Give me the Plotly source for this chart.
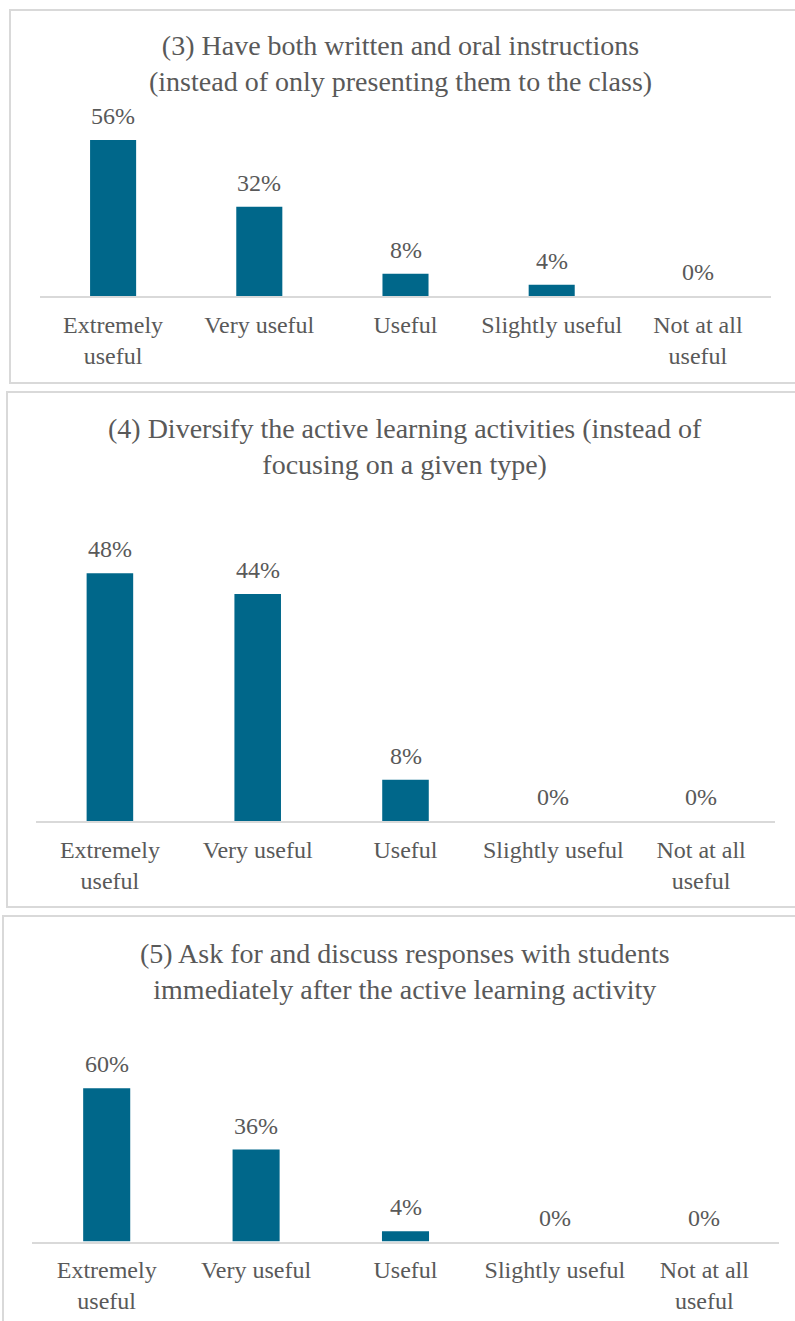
import plotly.graph_objects as go

# Survey response categories and their axis labels
categories = ["Extremely useful", "Very useful", "Useful", "Slightly useful", "Not at all useful"]
tick_labels = ["Extremely<br>useful", "Very useful", "Useful", "Slightly useful", "Not at all<br>useful"]

# Share of respondents (%) per question
q3_values = [56, 32, 8, 4, 0]
q4_values = [48, 44, 8, 0, 0]
q5_values = [60, 36, 4, 0, 0]

q3_title = "(3) Have both written and oral instructions<br>(instead of only presenting them to the class)"
q4_title = "(4) Diversify the active learning activities (instead of<br>focusing on a given type)"
q5_title = "(5) Ask for and discuss responses with students<br>immediately after the active learning activity"

W, H = 795, 1321
FONT = "'Liberation Serif', 'Times New Roman', 'DejaVu Serif', serif"
TEXT = "#595959"
BAR = "#00678A"
GRID = "#D9D9D9"

# Panel geometry in pixels: frame (left, top, bottom), plot x-extent, baseline,
# plot top, px per %, title centre
panels = [
    dict(values=q3_values, title=q3_title, frame=(10, 10, 383), xs=(40, 771),
         base=296, top=105, scale=2.786, title_x=400, title_y=63.5),
    dict(values=q4_values, title=q4_title, frame=(7, 392, 907), xs=(36, 775),
         base=821, top=480, scale=5.16, title_x=405, title_y=446.5),
    dict(values=q5_values, title=q5_title, frame=(3, 916, 1340), xs=(32, 779),
         base=1241.5, top=1010, scale=2.555, title_x=405, title_y=971.5),
]


def px_x(x):
    return x / W


def px_y(y):
    return 1 - y / H


fig = go.Figure()
annotations = []
shapes = []

for i, p in enumerate(panels, start=1):
    xa = "x" if i == 1 else f"x{i}"
    ya = "y" if i == 1 else f"y{i}"
    fig.add_trace(go.Bar(
        x=categories, y=p["values"], xaxis=xa, yaxis=ya,
        width=0.315, marker=dict(color=BAR, line=dict(width=0)),
        hoverinfo="skip", showlegend=False,
    ))
    ymax = (p["base"] - p["top"]) / p["scale"]
    xkey = "xaxis" if i == 1 else f"xaxis{i}"
    ykey = "yaxis" if i == 1 else f"yaxis{i}"
    fig.update_layout({
        xkey: dict(
            domain=[px_x(p["xs"][0]), px_x(p["xs"][1])],
            anchor=ya, type="category",
            tickmode="array", tickvals=categories, ticktext=tick_labels,
            showline=True, linecolor=GRID, linewidth=1.5,
            showgrid=False, zeroline=False, ticks="",
            ticklabelstandoff=6,
            tickfont=dict(family=FONT, size=24, color=TEXT),
            fixedrange=True,
        ),
        ykey: dict(
            domain=[px_y(p["base"]), px_y(p["top"])],
            anchor=xa, range=[0, ymax], visible=False, fixedrange=True,
        ),
    })
    # value labels above each bar
    for c, v in zip(categories, p["values"]):
        annotations.append(dict(
            x=c, y=v, xref=xa, yref=ya, text=f"{v}%", showarrow=False,
            yanchor="middle", yshift=24,
            font=dict(family=FONT, size=24, color=TEXT),
        ))
    # panel title
    annotations.append(dict(
        x=px_x(p["title_x"]), y=px_y(p["title_y"]), xref="paper", yref="paper",
        text=p["title"], showarrow=False, align="center",
        xanchor="center", yanchor="middle",
        font=dict(family=FONT, size=28, color=TEXT),
    ))
    # panel frame (open on the right edge)
    left, top, bottom = p["frame"]
    shapes.append(dict(
        type="rect", xref="paper", yref="paper",
        x0=px_x(left), x1=px_x(W + 20), y0=px_y(bottom), y1=px_y(top),
        line=dict(color=GRID, width=2), fillcolor="rgba(0,0,0,0)", layer="below",
    ))

fig.update_layout(
    width=W, height=H,
    margin=dict(l=0, r=0, t=0, b=0),
    paper_bgcolor="white", plot_bgcolor="white",
    annotations=annotations, shapes=shapes,
    font=dict(family=FONT, color=TEXT),
)

fig.write_html("out.html", config=dict(displayModeBar=False))
